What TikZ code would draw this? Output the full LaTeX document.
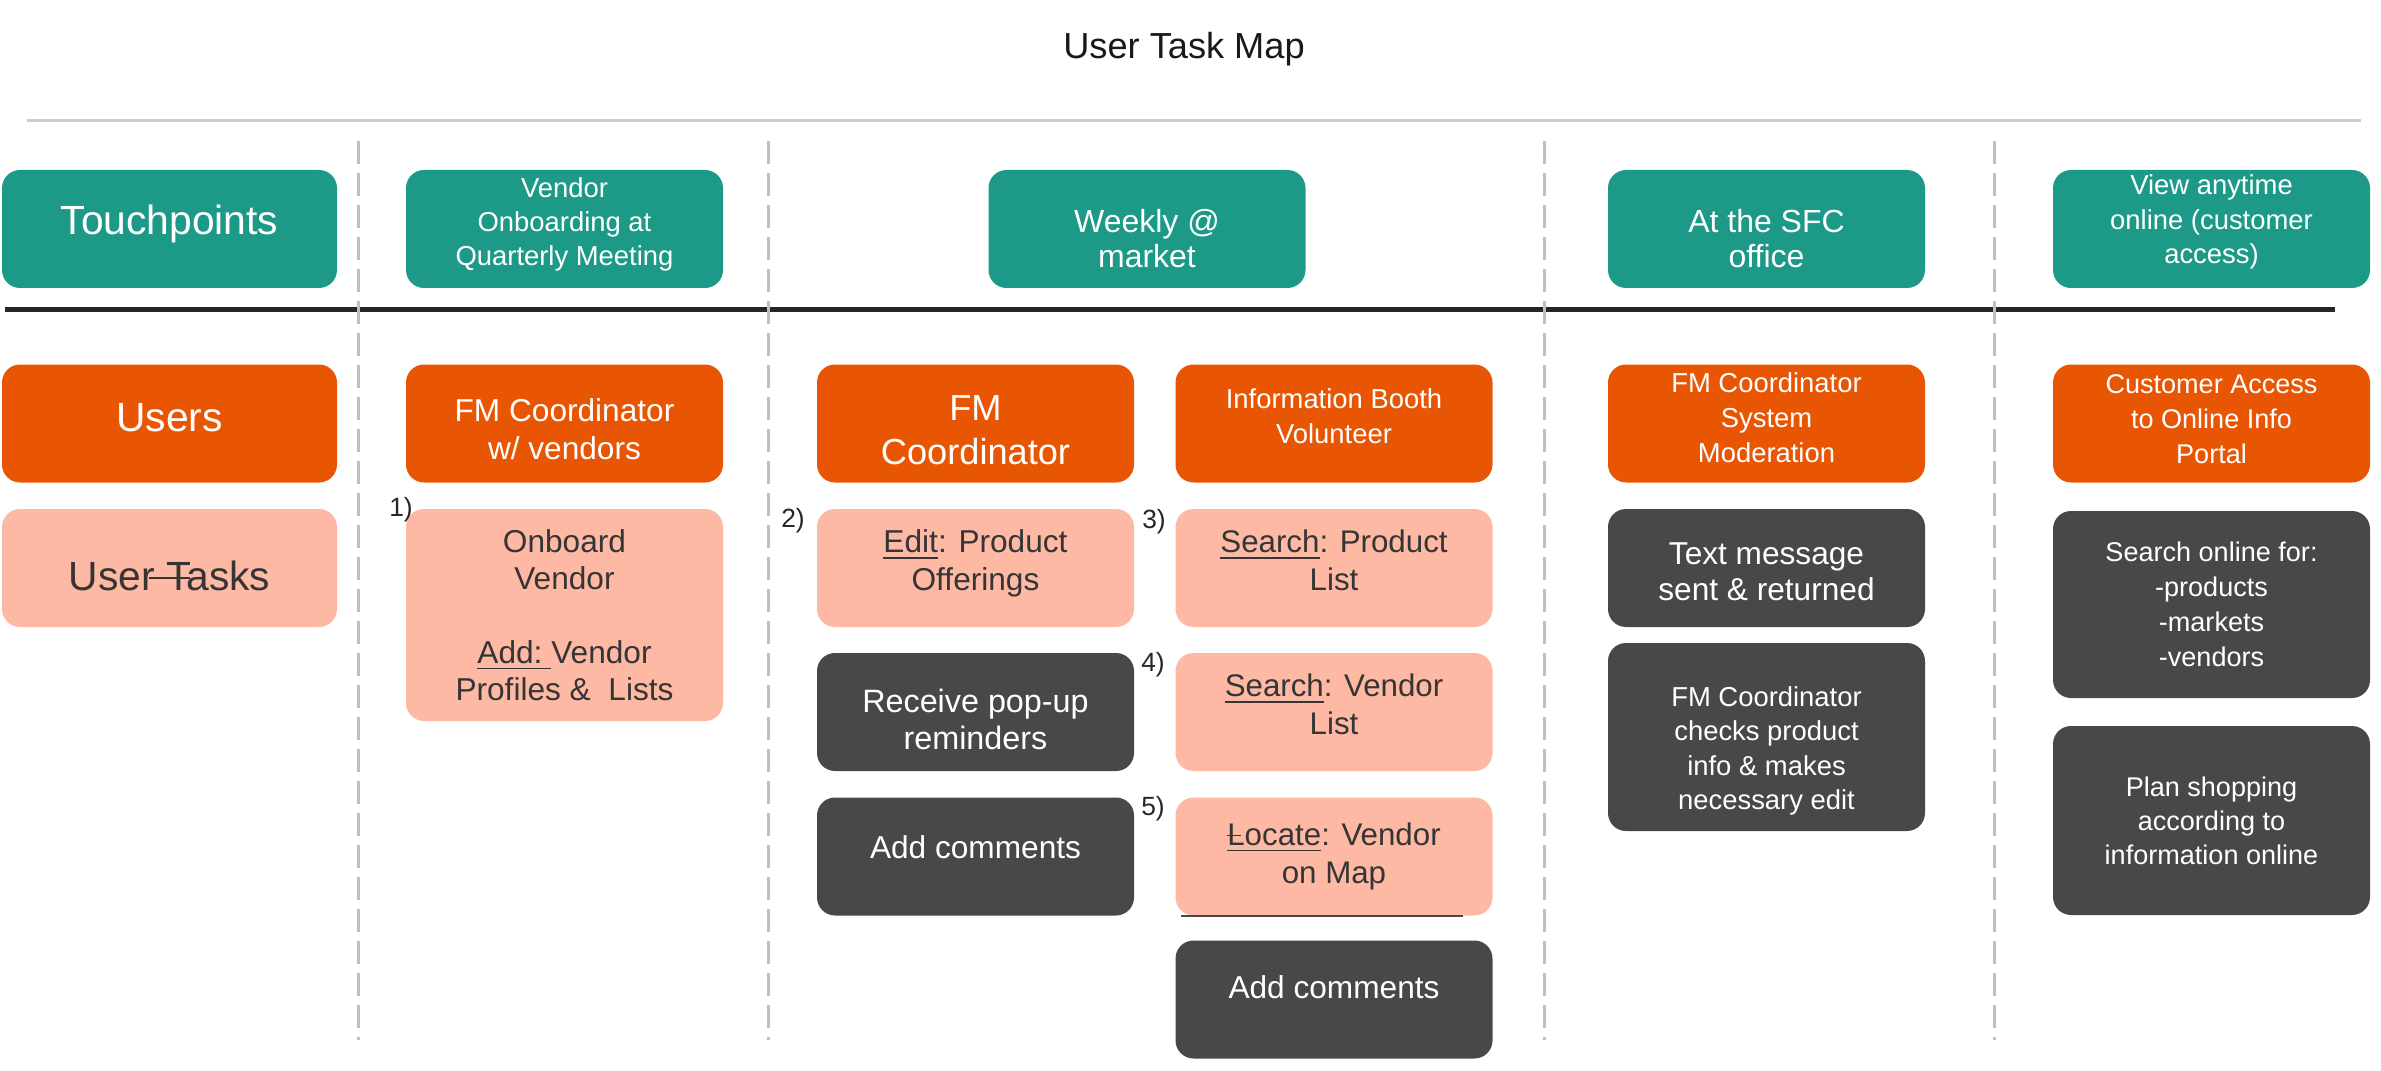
\documentclass[tikz,border=0pt]{standalone}
\usepackage{fontspec}
\setmainfont{Liberation Sans}

\definecolor{tpgreen}{RGB}{28,154,135}
\definecolor{usrorange}{RGB}{232,86,4}
\definecolor{taskpink}{RGB}{253,185,163}
\definecolor{actgray}{RGB}{72,72,72}
\definecolor{tasktext}{RGB}{53,53,53}

\newcommand{\fsz}[2]{\fontsize{#1}{#2}\selectfont}
\newcommand{\dnby}[1]{\rule{0pt}{\dimexpr 0.73em + #1*2\relax}}
\newcommand{\upby}[2][0em]{\rule[-\dimexpr #1 + #2*2\relax]{0pt}{\dimexpr #1 + #2*2\relax}}

\tikzset{
	box/.style = {rounded corners = 0.18cm, minimum width = 3.17cm, minimum height = 1.18cm, align = center, inner sep = 0pt},
	tp/.style = {box, fill = tpgreen, text = white},
	usr/.style = {box, fill = usrorange, text = white},
	task/.style = {box, fill = taskpink, text = tasktext},
	act/.style = {box, fill = actgray, text = white},
	num/.style = {font = \fsz{7.5}{9}, text = black!85, inner sep = 0pt}
}

\begin{document}
\begin{tikzpicture}
	 \useasboundingbox (0, 0) rectangle (23.81, -10.71);
	 \node[font = \fsz{10.3}{12}, text = black!90] (title) at (11.84, -0.49) {User Task Map};
	 
	 \draw[line width = 0.03cm, black!20] (0.27, -1.21) -- (23.61, -1.21);
	 \draw[line width = 0.045cm, black!85] (0.05, -3.095) -- (23.35, -3.095);
	 \foreach \x in {3.58, 7.68, 15.44, 19.94}
	 \draw[line width = 0.03cm, black!25, dash pattern = on 0.23cm off 0.09cm] (\x, -1.41) -- (\x, -10.40);
	 
	 \node[tp, minimum width = 3.35cm, font = \fsz{11.6}{14}] (tpA) at (1.695, -2.29) {Touchpoints\upby[0.21em]{1.3pt}};
	 \node[tp, font = \fsz{7.8}{9.7}] (tpB) at (5.645, -2.29) {Vendor\\Onboarding at\\Quarterly Meeting\upby[0.21em]{1.3pt}};
	 \node[tp, font = \fsz{9.1}{10}] (tpC) at (11.47, -2.29) {\dnby{2.6pt}Weekly @\\market};
	 \node[tp, font = \fsz{9.1}{10}] (tpD) at (17.665, -2.29) {\dnby{2.6pt}At the SFC\\office};
	 \node[tp, font = \fsz{7.8}{9.7}] (tpE) at (22.115, -2.29) {View anytime\\online (customer\\access)\upby[0.21em]{2pt}};
	 
	 \node[usr, minimum width = 3.35cm, font = \fsz{11.6}{14}] (usA) at (1.695, -4.235) {Users\upby{1.7pt}};
	 \node[usr, font = \fsz{9}{10.8}] (usB) at (5.645, -4.235) {\dnby{1.7pt}FM Coordinator\\w/ vendors};
	 \node[usr, font = \fsz{10.3}{12.5}] (usC1) at (9.755, -4.235) {\dnby{1.7pt}FM\\Coordinator};
	 \node[usr, font = \fsz{7.8}{10}] (usC2) at (13.34, -4.235) {Information Booth\\Volunteer\upby{2.2pt}};
	 \node[usr, font = \fsz{7.8}{10}] (usD) at (17.665, -4.235) {FM Coordinator\\System\\Moderation\upby{1.7pt}};
	 \node[usr, font = \fsz{7.7}{10}] (usE) at (22.115, -4.235) {Customer Access\\to Online Info\\Portal\upby{1.3pt}};
	 
	 \node[task, minimum width = 3.35cm, font = \fsz{11.6}{14}] (taA) at (1.695, -5.68) {\dnby{2.2pt}Use\rlap{\hspace{0.2em}\rule[0.27em]{1.0em}{0.05em}}r Tasks};
	 \node[task, minimum height = 2.12cm, font = \fsz{9}{10.5}] (taB) at (5.645, -6.15) {Onboard\\Vendor\\[10.5pt]\underline{Add:\ }Vendor\\Profiles \&\ \ Lists};
	 \node[task, font = \fsz{9}{10.8}] (taC1) at (9.755, -5.68) {\underline{Edit}: Product\\Offerings\upby[0.21em]{1.3pt}};
	 \node[task, font = \fsz{8.9}{10.8}] (taC2) at (13.34, -5.68) {\underline{Search}: Product\\List\upby{2.2pt}};
	 \node[act, font = \fsz{9.2}{10.5}] (acC1) at (9.755, -7.12) {\dnby{2.2pt}Receive pop-up\\reminders};
	 \node[task, font = \fsz{8.9}{10.8}] (taC3) at (13.34, -7.12) {\underline{Search}: Vendor\\List\upby{2.2pt}};
	 \node[act, font = \fsz{9}{10.8}] (acC2) at (9.755, -8.565) {Add comments\upby{2.6pt}};
	 \node[task, font = \fsz{8.9}{11}] (taC4) at (13.34, -8.565) {\underline{\rlap{\rule[0.29em]{0.45em}{0.05em}}Locate}: Vendor\\on Map};
	 \draw[line width = 0.025cm, actgray] ([xshift = 0.06cm] taC4.south west) -- ([xshift = -0.3cm] taC4.south east);
	 \node[act, font = \fsz{9}{10.8}] (acC3) at (13.34, -9.995) {Add comments\upby{3.5pt}};
	 
	 \node[act, font = \fsz{9}{10.2}] (acD1) at (17.665, -5.68) {\dnby{1pt}Text message\\sent \& returned};
	 \node[act, minimum height = 1.88cm, font = \fsz{7.8}{9.8}] (acD2) at (17.665, -7.37) {\dnby{3.9pt}FM Coordinator\\checks product\\info \& makes\\necessary edit};
	 \node[act, minimum height = 1.87cm, font = \fsz{7.7}{10}] (acE1) at (22.115, -6.045) {Search online for:\\-products\\-markets\\-vendors};
	 \node[act, minimum height = 1.89cm, font = \fsz{7.7}{9.7}] (acE2) at (22.115, -8.205) {Plan shopping\\according to\\information online};
	 
	 \node[num] (n1) at (4.01, -5.10) {1)};
	 \node[num] (n2) at (7.93, -5.21) {2)};
	 \node[num] (n3) at (11.54, -5.22) {3)};
	 \node[num] (n4) at (11.53, -6.65) {4)};
	 \node[num] (n5) at (11.53, -8.09) {5)};
\end{tikzpicture}
\end{document}
